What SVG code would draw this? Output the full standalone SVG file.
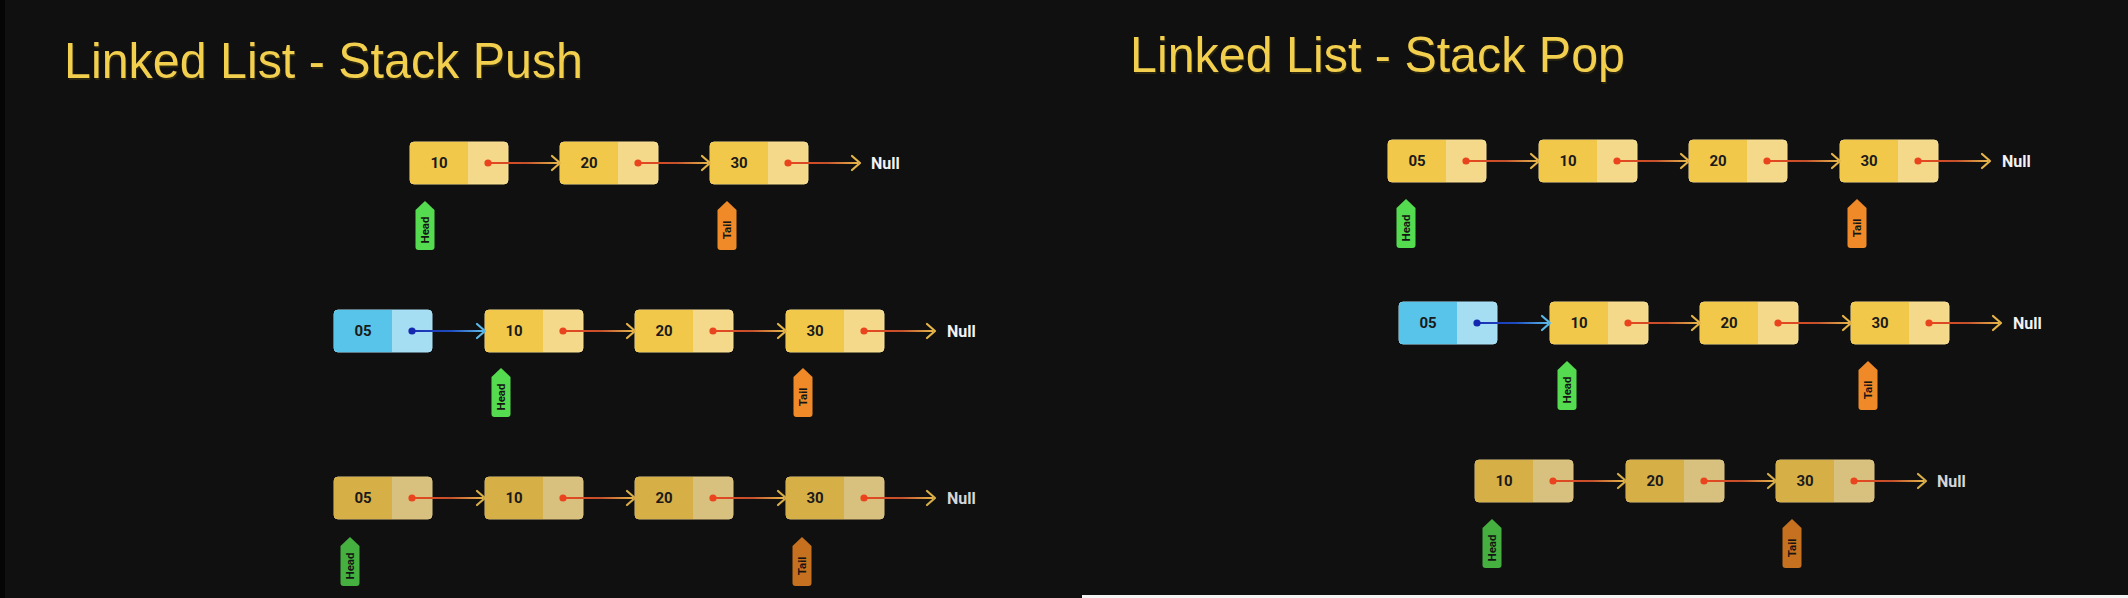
<svg xmlns="http://www.w3.org/2000/svg" xmlns:xlink="http://www.w3.org/1999/xlink" width="2128" height="598" viewBox="0 0 2128 598">
<style>
.title{font-family:"Liberation Sans",Arial,sans-serif;font-size:50px;fill:#F3CF4E}
.tshadow{font-family:"Liberation Sans",Arial,sans-serif;font-size:50px;fill:#2a2510}
.num{font-family:Roboto,"Noto Sans",sans-serif;font-size:15px;font-weight:700;fill:#1a1a1a;text-anchor:middle}
.null{font-family:Roboto,"Noto Sans",sans-serif;font-size:16px;font-weight:700;fill:#f2f2f2}
.null.dim{fill:#d6d6d6}
.tagt{font-family:Roboto,"Noto Sans",sans-serif;font-size:11.5px;font-weight:700;fill:#141414;text-anchor:middle;dominant-baseline:central}
.chev{fill:none;stroke:#E6B54A;stroke-width:2.2;stroke-linecap:round;stroke-linejoin:round}
.chev.dim{stroke:#D8AE4A}
.chev.blue{stroke:#5CB8E8}
.lnk{fill:url(#gRed)}
.lnk.blue{fill:url(#gBlue)}
.dot{fill:#E9441D}
.dot.blue{fill:#1428B0}
</style>
<defs>
<linearGradient id="gRed" x1="0" y1="0" x2="1" y2="0">
<stop offset="0" stop-color="#E8471F"/>
<stop offset="0.55" stop-color="#C4502C"/>
<stop offset="1" stop-color="#E6B44A"/>
</linearGradient>
<linearGradient id="gBlue" x1="0" y1="0" x2="1" y2="0">
<stop offset="0" stop-color="#1A2FB5"/>
<stop offset="0.55" stop-color="#1E4CC0"/>
<stop offset="1" stop-color="#5CB8E8"/>
</linearGradient>
<g id="nb">
<rect x="0" y="0" width="98" height="42" rx="4" fill="#F4D98B" stroke="#F8E095" stroke-width="1"/>
<path d="M4,0H58V42H4Q0,42 0,38V4Q0,0 4,0Z" fill="#F2C84B"/>
</g>
<g id="nbd">
<rect x="0" y="0" width="98" height="42" rx="4" fill="#D8C07F" stroke="#DEC582" stroke-width="1"/>
<path d="M4,0H58V42H4Q0,42 0,38V4Q0,0 4,0Z" fill="#D7AF47"/>
</g>
<g id="nbb">
<rect x="0" y="0" width="98" height="42" rx="4" fill="#A5DDF3" stroke="#ABE1F5" stroke-width="1"/>
<path d="M4,0H58V42H4Q0,42 0,38V4Q0,0 4,0Z" fill="#58C4EA"/>
</g>
<path id="tagShape" d="M0,0 L9.5,9 V46 Q9.5,49 6.5,49 H-6.5 Q-9.5,49 -9.5,46 V9 Z"/>
</defs>

<rect x="0" y="0" width="2128" height="598" fill="#101010"/>
<rect x="0" y="0" width="5" height="598" fill="#050505"/>
<rect x="1082" y="595" width="1046" height="3" fill="#f4f4f4"/>

<g id="titles">
<text class="tshadow" x="65" y="80" textLength="519" lengthAdjust="spacingAndGlyphs">Linked List - Stack Push</text>
<text class="title" x="64" y="78" textLength="519" lengthAdjust="spacingAndGlyphs">Linked List - Stack Push</text>
<text class="tshadow" x="1131" y="74" textLength="495" lengthAdjust="spacingAndGlyphs">Linked List - Stack Pop</text>
<text class="title" x="1130" y="72" textLength="495" lengthAdjust="spacingAndGlyphs">Linked List - Stack Pop</text>
</g>

<!-- push row 1 nodes -->
<g id="push1-n10" transform="translate(410,142)"><use href="#nb"/><text class="num" x="29" y="26">10</text></g>
<g id="push1-n20" transform="translate(560,142)"><use href="#nb"/><text class="num" x="29" y="26">20</text></g>
<g id="push1-n30" transform="translate(710,142)"><use href="#nb"/><text class="num" x="29" y="26">30</text></g>
<g id="push1-null"><text class="null" x="871" y="169">Null</text></g>
<g id="push1-head" transform="translate(425,201)"><use href="#tagShape" fill="#55DB4F"/><text class="tagt" transform="translate(0,29) rotate(-90)">Head</text></g>
<g id="push1-tail" transform="translate(727,201)"><use href="#tagShape" fill="#F08A28"/><text class="tagt" transform="translate(0,29) rotate(-90)">Tail</text></g>

<!-- push row 2 nodes -->
<g id="push2-n05" transform="translate(334,310)"><use href="#nbb"/><text class="num" x="29" y="26">05</text></g>
<g id="push2-n10" transform="translate(485,310)"><use href="#nb"/><text class="num" x="29" y="26">10</text></g>
<g id="push2-n20" transform="translate(635,310)"><use href="#nb"/><text class="num" x="29" y="26">20</text></g>
<g id="push2-n30" transform="translate(786,310)"><use href="#nb"/><text class="num" x="29" y="26">30</text></g>
<g id="push2-null"><text class="null" x="947" y="337">Null</text></g>
<g id="push2-head" transform="translate(501,368)"><use href="#tagShape" fill="#55DB4F"/><text class="tagt" transform="translate(0,29) rotate(-90)">Head</text></g>
<g id="push2-tail" transform="translate(803,368)"><use href="#tagShape" fill="#F08A28"/><text class="tagt" transform="translate(0,29) rotate(-90)">Tail</text></g>

<!-- push row 3 nodes (dim) -->
<g id="push3-n05" transform="translate(334,477)"><use href="#nbd"/><text class="num" x="29" y="26">05</text></g>
<g id="push3-n10" transform="translate(485,477)"><use href="#nbd"/><text class="num" x="29" y="26">10</text></g>
<g id="push3-n20" transform="translate(635,477)"><use href="#nbd"/><text class="num" x="29" y="26">20</text></g>
<g id="push3-n30" transform="translate(786,477)"><use href="#nbd"/><text class="num" x="29" y="26">30</text></g>
<g id="push3-null"><text class="null dim" x="947" y="504">Null</text></g>
<g id="push3-head" transform="translate(350,537)"><use href="#tagShape" fill="#45B03F"/><text class="tagt" transform="translate(0,29) rotate(-90)">Head</text></g>
<g id="push3-tail" transform="translate(802,537)"><use href="#tagShape" fill="#C6711F"/><text class="tagt" transform="translate(0,29) rotate(-90)">Tail</text></g>

<!-- pop row 1 nodes -->
<g id="pop1-n05" transform="translate(1388,140)"><use href="#nb"/><text class="num" x="29" y="26">05</text></g>
<g id="pop1-n10" transform="translate(1539,140)"><use href="#nb"/><text class="num" x="29" y="26">10</text></g>
<g id="pop1-n20" transform="translate(1689,140)"><use href="#nb"/><text class="num" x="29" y="26">20</text></g>
<g id="pop1-n30" transform="translate(1840,140)"><use href="#nb"/><text class="num" x="29" y="26">30</text></g>
<g id="pop1-null"><text class="null" x="2002" y="167">Null</text></g>
<g id="pop1-head" transform="translate(1406,199)"><use href="#tagShape" fill="#55DB4F"/><text class="tagt" transform="translate(0,29) rotate(-90)">Head</text></g>
<g id="pop1-tail" transform="translate(1857,199)"><use href="#tagShape" fill="#F08A28"/><text class="tagt" transform="translate(0,29) rotate(-90)">Tail</text></g>

<!-- pop row 2 nodes -->
<g id="pop2-n05" transform="translate(1399,302)"><use href="#nbb"/><text class="num" x="29" y="26">05</text></g>
<g id="pop2-n10" transform="translate(1550,302)"><use href="#nb"/><text class="num" x="29" y="26">10</text></g>
<g id="pop2-n20" transform="translate(1700,302)"><use href="#nb"/><text class="num" x="29" y="26">20</text></g>
<g id="pop2-n30" transform="translate(1851,302)"><use href="#nb"/><text class="num" x="29" y="26">30</text></g>
<g id="pop2-null"><text class="null" x="2013" y="329">Null</text></g>
<g id="pop2-head" transform="translate(1567,361)"><use href="#tagShape" fill="#55DB4F"/><text class="tagt" transform="translate(0,29) rotate(-90)">Head</text></g>
<g id="pop2-tail" transform="translate(1868,361)"><use href="#tagShape" fill="#F08A28"/><text class="tagt" transform="translate(0,29) rotate(-90)">Tail</text></g>

<!-- pop row 3 nodes (dim) -->
<g id="pop3-n10" transform="translate(1475,460)"><use href="#nbd"/><text class="num" x="29" y="26">10</text></g>
<g id="pop3-n20" transform="translate(1626,460)"><use href="#nbd"/><text class="num" x="29" y="26">20</text></g>
<g id="pop3-n30" transform="translate(1776,460)"><use href="#nbd"/><text class="num" x="29" y="26">30</text></g>
<g id="pop3-null"><text class="null dim" x="1937" y="487">Null</text></g>
<g id="pop3-head" transform="translate(1492,519)"><use href="#tagShape" fill="#45B03F"/><text class="tagt" transform="translate(0,29) rotate(-90)">Head</text></g>
<g id="pop3-tail" transform="translate(1792,519)"><use href="#tagShape" fill="#C6711F"/><text class="tagt" transform="translate(0,29) rotate(-90)">Tail</text></g>

<!-- connectors (drawn over the pointer cells, from dot to next node) -->
<g id="connectors">
<!-- push row 1 -->
<rect class="lnk" x="488" y="162" width="70" height="2"/><polyline class="chev" points="552,156 560,163 552,170"/><circle class="dot" cx="488" cy="163" r="3.6"/>
<rect class="lnk" x="638" y="162" width="70" height="2"/><polyline class="chev" points="702,156 710,163 702,170"/><circle class="dot" cx="638" cy="163" r="3.6"/>
<rect class="lnk" x="788" y="162" width="70" height="2"/><polyline class="chev" points="852,156 860,163 852,170"/><circle class="dot" cx="788" cy="163" r="3.6"/>
<!-- push row 2 -->
<rect class="lnk blue" x="412" y="330" width="71" height="2"/><polyline class="chev blue" points="477,324 485,331 477,338"/><circle class="dot blue" cx="412" cy="331" r="3.6"/>
<rect class="lnk" x="563" y="330" width="70" height="2"/><polyline class="chev" points="627,324 635,331 627,338"/><circle class="dot" cx="563" cy="331" r="3.6"/>
<rect class="lnk" x="713" y="330" width="71" height="2"/><polyline class="chev" points="778,324 786,331 778,338"/><circle class="dot" cx="713" cy="331" r="3.6"/>
<rect class="lnk" x="864" y="330" width="69" height="2"/><polyline class="chev" points="927,324 935,331 927,338"/><circle class="dot" cx="864" cy="331" r="3.6"/>
<!-- push row 3 -->
<rect class="lnk" x="412" y="497" width="71" height="2"/><polyline class="chev dim" points="477,491 485,498 477,505"/><circle class="dot" cx="412" cy="498" r="3.6"/>
<rect class="lnk" x="563" y="497" width="70" height="2"/><polyline class="chev dim" points="627,491 635,498 627,505"/><circle class="dot" cx="563" cy="498" r="3.6"/>
<rect class="lnk" x="713" y="497" width="71" height="2"/><polyline class="chev dim" points="778,491 786,498 778,505"/><circle class="dot" cx="713" cy="498" r="3.6"/>
<rect class="lnk" x="864" y="497" width="69" height="2"/><polyline class="chev dim" points="927,491 935,498 927,505"/><circle class="dot" cx="864" cy="498" r="3.6"/>
<!-- pop row 1 -->
<rect class="lnk" x="1466" y="160" width="71" height="2"/><polyline class="chev" points="1531,154 1539,161 1531,168"/><circle class="dot" cx="1466" cy="161" r="3.6"/>
<rect class="lnk" x="1617" y="160" width="70" height="2"/><polyline class="chev" points="1681,154 1689,161 1681,168"/><circle class="dot" cx="1617" cy="161" r="3.6"/>
<rect class="lnk" x="1767" y="160" width="71" height="2"/><polyline class="chev" points="1832,154 1840,161 1832,168"/><circle class="dot" cx="1767" cy="161" r="3.6"/>
<rect class="lnk" x="1918" y="160" width="70" height="2"/><polyline class="chev" points="1982,154 1990,161 1982,168"/><circle class="dot" cx="1918" cy="161" r="3.6"/>
<!-- pop row 2 -->
<rect class="lnk blue" x="1477" y="322" width="71" height="2"/><polyline class="chev blue" points="1542,316 1550,323 1542,330"/><circle class="dot blue" cx="1477" cy="323" r="3.6"/>
<rect class="lnk" x="1628" y="322" width="70" height="2"/><polyline class="chev" points="1692,316 1700,323 1692,330"/><circle class="dot" cx="1628" cy="323" r="3.6"/>
<rect class="lnk" x="1778" y="322" width="71" height="2"/><polyline class="chev" points="1843,316 1851,323 1843,330"/><circle class="dot" cx="1778" cy="323" r="3.6"/>
<rect class="lnk" x="1929" y="322" width="70" height="2"/><polyline class="chev" points="1993,316 2001,323 1993,330"/><circle class="dot" cx="1929" cy="323" r="3.6"/>
<!-- pop row 3 -->
<rect class="lnk" x="1553" y="480" width="71" height="2"/><polyline class="chev dim" points="1618,474 1626,481 1618,488"/><circle class="dot" cx="1553" cy="481" r="3.6"/>
<rect class="lnk" x="1704" y="480" width="70" height="2"/><polyline class="chev dim" points="1768,474 1776,481 1768,488"/><circle class="dot" cx="1704" cy="481" r="3.6"/>
<rect class="lnk" x="1854" y="480" width="70" height="2"/><polyline class="chev dim" points="1918,474 1926,481 1918,488"/><circle class="dot" cx="1854" cy="481" r="3.6"/>
</g>
</svg>
